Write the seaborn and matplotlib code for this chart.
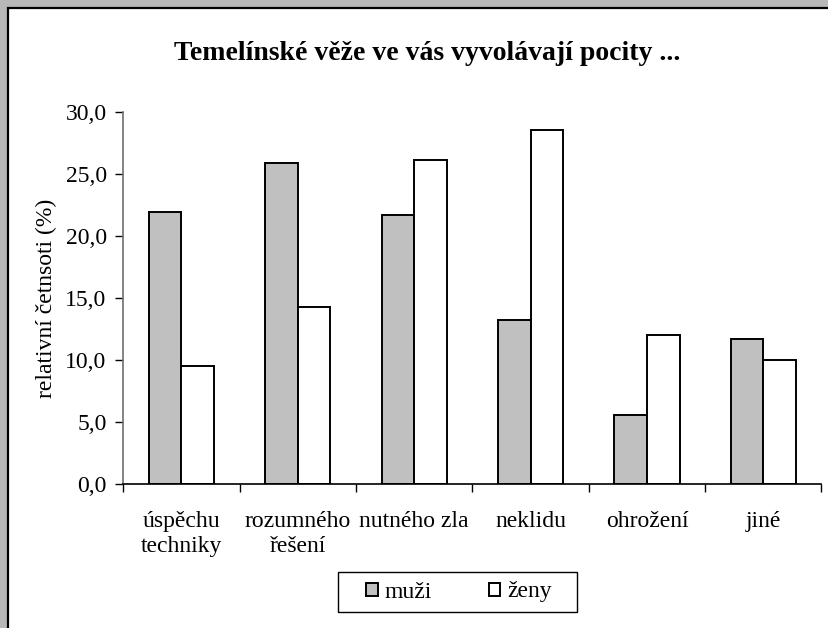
import numpy as np
import pandas as pd
import matplotlib
matplotlib.use('Agg')
import matplotlib.pyplot as plt
import matplotlib.patches as mpatches
from matplotlib.ticker import FixedLocator, FuncFormatter
import seaborn as sns

# data
kategorie = ['úspěchu\ntechniky', 'rozumného\nřešení', 'nutného zla',
             'neklidu', 'ohrožení', 'jiné']
muzi = [21.9, 25.9, 21.7, 13.2, 5.6, 11.7]
zeny = [9.5, 14.3, 26.1, 28.5, 12.0, 10.0]
skupiny = ['muži', 'ženy']
y_ticks = [0, 5, 10, 15, 20, 25, 30]

df = pd.DataFrame({
    'kategorie': kategorie * 2,
    'pohlavi': ['muži'] * len(muzi) + ['ženy'] * len(zeny),
    'hodnota': muzi + zeny,
})

sns.set_theme(style='white')
plt.rcParams['font.family'] = ['Liberation Serif', 'DejaVu Serif']

W, H = 829, 628
FS = 17
fig = plt.figure(figsize=(W / 100, H / 100), dpi=100, facecolor='#b8b8b8')

# white chart panel with black border (top/left visible)
panel = mpatches.Rectangle((8 / W, -0.05), 1.2, 1.05 - 8 / H,
                           transform=fig.transFigure, facecolor='white',
                           edgecolor='black', lw=1.6, zorder=-10)
fig.patches.append(panel)

left, right = 123.3 / W, 821.5 / W
bottom, top = 1 - 484.3 / H, 1 - 111.7 / H
ax = fig.add_axes([left, bottom, right - left, top - bottom])
ax.set_facecolor('none')

sns.barplot(data=df, x='kategorie', y='hodnota', hue='pohlavi',
            palette={'muži': '#c0c0c0', 'ženy': 'white'},
            edgecolor='black', linewidth=1.4, width=0.56, ax=ax,
            legend=True)

ax.set_xlim(-0.5, len(kategorie) - 0.5)
ax.set_ylim(0, 30)
ax.yaxis.set_major_locator(FixedLocator(y_ticks))
ax.yaxis.set_major_formatter(FuncFormatter(lambda v, p: f'{v:.1f}'.replace('.', ',')))

# tick marks between categories, labels at centres
ax.xaxis.set_major_locator(FixedLocator(np.arange(-0.5, len(kategorie), 1.0)))
ax.xaxis.set_major_formatter(FuncFormatter(lambda v, p: ''))
ax.xaxis.set_minor_locator(FixedLocator(np.arange(len(kategorie))))
ax.set_xticklabels(kategorie, minor=True, linespacing=1.3)
ax.tick_params(axis='x', which='major', direction='out', length=6, width=1,
               color='black', bottom=True)
ax.tick_params(axis='x', which='minor', length=0, pad=19, labelsize=FS,
               labelcolor='black')
ax.tick_params(axis='y', direction='out', length=6, width=1, color='black',
               left=True, labelsize=FS, labelcolor='black', pad=6)

for s in ['top', 'right']:
    ax.spines[s].set_visible(False)
ax.spines['left'].set_color('#707070')
ax.spines['left'].set_linewidth(1.2)
ax.spines['bottom'].set_color('black')
ax.spines['bottom'].set_linewidth(1.2)

ax.set_xlabel('')
ax.set_ylabel('relativní četnsoti (%)', fontsize=FS, color='black', labelpad=6)

fig.text(427 / W, 1 - 53 / H, 'Temelínské věže ve vás vyvolávají pocity ...',
         ha='center', va='center', fontsize=20, fontweight='bold', color='black')

# legend: entries without frame, box drawn separately (Excel-like padding)
handles, labels = ax.get_legend_handles_labels()
ax.legend_.remove()
leg = fig.legend(handles, labels, loc='center', bbox_to_anchor=(459 / W, 1 - 592 / H),
                 ncol=2, frameon=False, fontsize=FS, handlelength=0.47,
                 handleheight=0.47, handletextpad=0.3, columnspacing=2.4,
                 borderpad=0, borderaxespad=0)
for t in leg.get_texts():
    t.set_color('black')
legbox = mpatches.Rectangle((338 / W, 1 - 612 / H), 239 / W, 40 / H,
                            transform=fig.transFigure, facecolor='none',
                            edgecolor='black', lw=1.0)
fig.patches.append(legbox)

fig.savefig('out.png', dpi=100, facecolor=fig.get_facecolor())
